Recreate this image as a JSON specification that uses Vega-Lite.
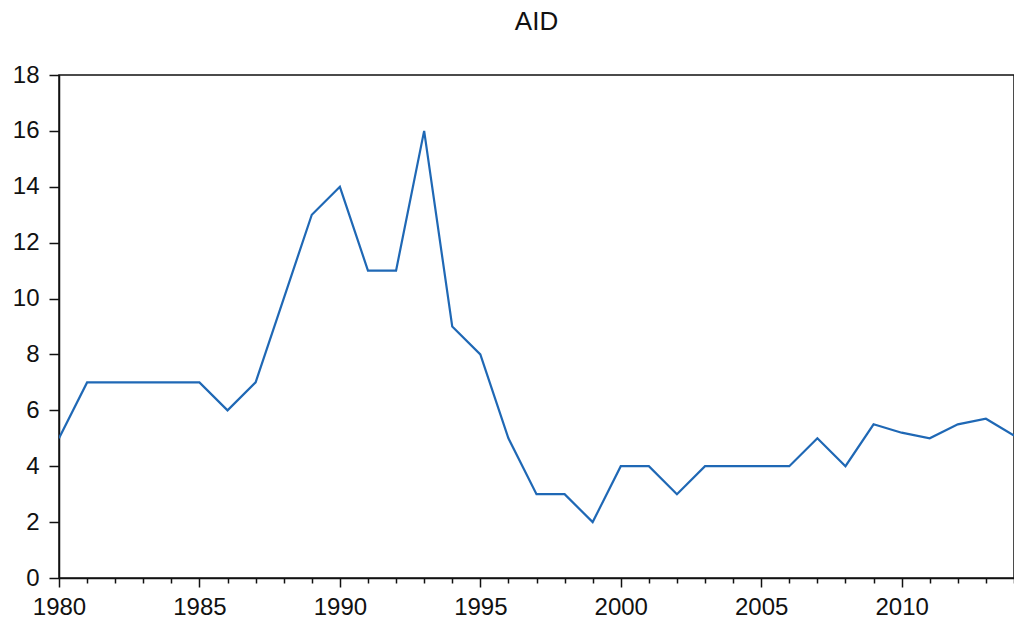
{
  "$schema": "https://vega.github.io/schema/vega-lite/v6.json",
  "autosize": {"type": "none"},
  "padding": {"left": 59, "top": 75, "right": 0, "bottom": 40},
  "width": 955,
  "height": 503,
  "background": "white",
  "title": {"text": "AID", "fontSize": 26, "font": "Liberation Sans", "fontWeight": "normal", "color": "#111", "anchor": "middle", "frame": "group", "offset": 28},
  "config": {
    "view": {"stroke": "#111", "strokeWidth": 1.5},
    "axis": {"grid": false, "domainColor": "#111", "tickColor": "#111", "labelColor": "#111", "labelFont": "Liberation Sans", "labelFontSize": 24, "domainWidth": 1.5, "tickWidth": 1.5}
  },
  "data": {"values": [
    {"year": 1980, "aid": 5},
    {"year": 1981, "aid": 7},
    {"year": 1982, "aid": 7},
    {"year": 1983, "aid": 7},
    {"year": 1984, "aid": 7},
    {"year": 1985, "aid": 7},
    {"year": 1986, "aid": 6},
    {"year": 1987, "aid": 7},
    {"year": 1988, "aid": 10},
    {"year": 1989, "aid": 13},
    {"year": 1990, "aid": 14},
    {"year": 1991, "aid": 11},
    {"year": 1992, "aid": 11},
    {"year": 1993, "aid": 16},
    {"year": 1994, "aid": 9},
    {"year": 1995, "aid": 8},
    {"year": 1996, "aid": 5},
    {"year": 1997, "aid": 3},
    {"year": 1998, "aid": 3},
    {"year": 1999, "aid": 2},
    {"year": 2000, "aid": 4},
    {"year": 2001, "aid": 4},
    {"year": 2002, "aid": 3},
    {"year": 2003, "aid": 4},
    {"year": 2004, "aid": 4},
    {"year": 2005, "aid": 4},
    {"year": 2006, "aid": 4},
    {"year": 2007, "aid": 5},
    {"year": 2008, "aid": 4},
    {"year": 2009, "aid": 5.5},
    {"year": 2010, "aid": 5.2},
    {"year": 2011, "aid": 5.0},
    {"year": 2012, "aid": 5.5},
    {"year": 2013, "aid": 5.7},
    {"year": 2014, "aid": 5.1}
  ]},
  "mark": {"type": "line", "color": "#1f68b5", "strokeWidth": 2.2, "clip": true},
  "encoding": {
    "x": {
      "field": "year", "type": "quantitative",
      "scale": {"domain": [1980, 2014], "nice": false, "zero": false},
      "axis": {
        "title": null,
        "values": [1980,1981,1982,1983,1984,1985,1986,1987,1988,1989,1990,1991,1992,1993,1994,1995,1996,1997,1998,1999,2000,2001,2002,2003,2004,2005,2006,2007,2008,2009,2010,2011,2012,2013,2014],
        "labelExpr": "datum.value % 5 === 0 ? datum.value : ''",
        "format": "d",
        "tickSize": {"condition": {"test": "datum.value % 5 === 0", "value": 9}, "value": 5},
        "labelPadding": 8,
        "labelOverlap": false,
        "labelFlush": false
      }
    },
    "y": {
      "field": "aid", "type": "quantitative",
      "scale": {"domain": [0, 18], "nice": false},
      "axis": {"title": null, "values": [0,2,4,6,8,10,12,14,16,18], "tickSize": 10, "labelPadding": 10}
    }
  }
}
